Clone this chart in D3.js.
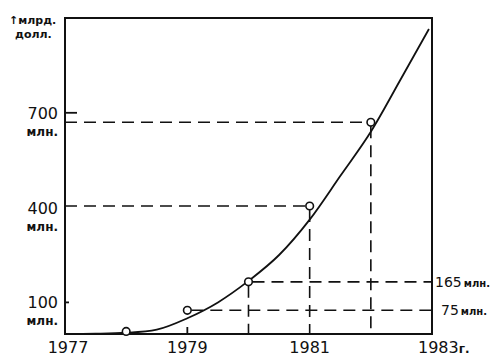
<!DOCTYPE html>
<html>
<head>
<meta charset="utf-8">
<script src="https://cdn.jsdelivr.net/npm/d3@7"></script>
<style>
  body { margin: 0; background: #fff; }
  text { font-family: "DejaVu Sans", sans-serif; fill: #111; }
  .num { font-size: 16px; }
  .unit { font-size: 12px; font-weight: bold; }
  .dash { stroke: #111; stroke-width: 1.6; stroke-dasharray: 12,7; fill: none; }
</style>
</head>
<body>
<div class="chart-container"></div>
<script>
// curve (year, млн долл.)
var curve_years = [1977, 1977.5, 1978, 1978.5, 1979, 1979.5, 1980, 1980.5, 1981, 1981.5, 1982, 1982.5, 1982.95]
var curve_values = [0, 1, 4, 14, 50, 100, 168, 250, 362, 500, 640, 810, 965]

// marked points
var point_years = [1978, 1979, 1980, 1981, 1982]
var point_values = [8, 75, 165, 405, 670]

// left axis labels
var left_ticks = [100, 400, 700]
// right side labels
var right_labels = [{ value: 165, text: "165" }, { value: 75, text: "75" }]
var year_labels = ["1977", "1979", "1981", "1983"]

var width = 500, height = 361
var x_scale = d3.scaleLinear().domain([1977, 1983]).range([65, 432])
var y_scale = d3.scaleLinear().domain([0, 1000]).range([334, 18])

var svg = d3.select('.chart-container')
    .append('svg')
    .attr('width', width)
    .attr('height', height)

var pts = point_years.map(function(d, i){ return {year: d, value: point_values[i]} })

// frame
svg.append('rect')
    .attr('x', x_scale(1977))
    .attr('y', y_scale(1000))
    .attr('width', x_scale(1983) - x_scale(1977))
    .attr('height', y_scale(0) - y_scale(1000))
    .attr('fill', 'none')
    .attr('stroke', '#111')
    .attr('stroke-width', 2)

// dashed guides: from left axis to 1981 and 1982 points
var g = svg.append('g')
pts.filter(function(d){ return d.year >= 1981 }).forEach(function(d){
    g.append('line').attr('class', 'dash')
        .attr('x1', x_scale(1977)).attr('x2', x_scale(d.year) - 4)
        .attr('y1', y_scale(d.value)).attr('y2', y_scale(d.value))
})
// from 1979/1980 points to the right edge
pts.filter(function(d){ return d.year == 1979 || d.year == 1980 }).forEach(function(d){
    g.append('line').attr('class', 'dash')
        .attr('x1', x_scale(d.year) + 4).attr('x2', x_scale(1983))
        .attr('y1', y_scale(d.value)).attr('y2', y_scale(d.value))
})
// verticals down to the year axis
pts.filter(function(d){ return d.year >= 1980 }).forEach(function(d){
    g.append('line').attr('class', 'dash')
        .attr('x1', x_scale(d.year)).attr('x2', x_scale(d.year))
        .attr('y1', y_scale(d.value) + 4).attr('y2', y_scale(0))
})

// small solid ticks
svg.append('line').attr('stroke', '#111').attr('stroke-width', 1.8)
    .attr('x1', x_scale(1977)).attr('x2', x_scale(1977) + 12)
    .attr('y1', y_scale(700)).attr('y2', y_scale(700))
svg.append('line').attr('stroke', '#111').attr('stroke-width', 1.8)
    .attr('x1', x_scale(1977)).attr('x2', x_scale(1977) + 4)
    .attr('y1', y_scale(100)).attr('y2', y_scale(100))
svg.append('line').attr('stroke', '#111').attr('stroke-width', 1.8)
    .attr('x1', x_scale(1979)).attr('x2', x_scale(1979))
    .attr('y1', y_scale(0)).attr('y2', y_scale(0) - 7)

// curve
var line = d3.line()
    .x(function(d){ return x_scale(d[0]) })
    .y(function(d){ return y_scale(d[1]) })
    .curve(d3.curveMonotoneX)
svg.append('path')
    .datum(curve_years.map(function(d, i){ return [d, curve_values[i]] }))
    .attr('d', line)
    .attr('fill', 'none')
    .attr('stroke', '#111')
    .attr('stroke-width', 1.8)

// points
svg.selectAll('.point')
    .data(pts)
    .enter()
    .append('circle')
    .attr('class', 'point')
    .attr('cx', function(d){ return x_scale(d.year) })
    .attr('cy', function(d){ return y_scale(d.value) })
    .attr('r', 3.8)
    .attr('fill', '#fff')
    .attr('stroke', '#111')
    .attr('stroke-width', 1.6)

// left labels
left_ticks.forEach(function(v){
    svg.append('text').attr('class', 'num')
        .attr('x', 58).attr('y', y_scale(v) + 6)
        .attr('text-anchor', 'end').text(v)
    svg.append('text').attr('class', 'unit')
        .attr('x', 58).attr('y', y_scale(v) + 23)
        .attr('text-anchor', 'end').text('млн.')
})

// top unit label
svg.append('text').attr('class', 'unit').style('font-size', '11px').attr('x', 9).attr('y', 24).text('↑млрд.')
svg.append('text').attr('class', 'unit').style('font-size', '11px').attr('x', 15).attr('y', 38).text('долл.')

// right labels
right_labels.forEach(function(d, i){
    var t = svg.append('text')
        .attr('x', i == 0 ? 435 : 441)
        .attr('y', y_scale(d.value) + 5)
    t.append('tspan').attr('class', 'num').style('font-size', '14px').text(d.text)
    t.append('tspan').attr('class', 'unit').style('font-size', '10px').attr('dx', 2).text('млн.')
})

// year labels
year_labels.forEach(function(y){
    var t = svg.append('text').attr('class', 'num')
        .attr('x', x_scale(+y) + (y == "1977" ? 3 : 0))
        .attr('y', 353)
        .attr('text-anchor', 'middle')
        .text(y)
    if (y == "1983") {
        t.attr('text-anchor', 'start').attr('x', x_scale(+y) - 14)
        t.append('tspan').attr('class', 'unit').text('г.')
    }
})
</script>
</body>
</html>
